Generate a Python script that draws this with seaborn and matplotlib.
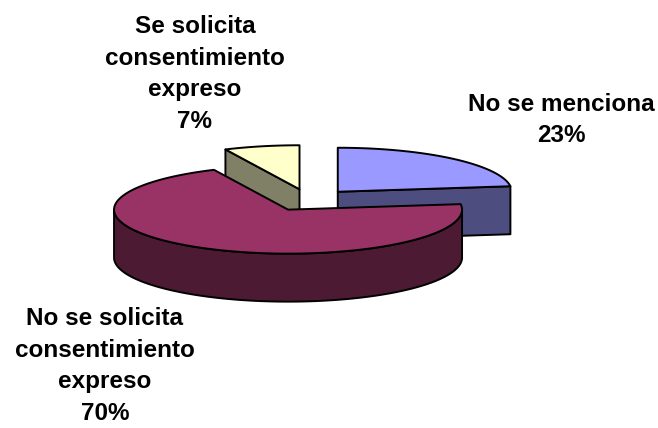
import numpy as np
import matplotlib
matplotlib.use("Agg")
import matplotlib.pyplot as plt
from matplotlib.patches import Polygon
import seaborn as sns

# Survey answers and their shares (percent)
categories = ["No se menciona",
              "No se solicita\nconsentimiento\nexpreso",
              "Se solicita\nconsentimiento\nexpreso"]
shares = [23, 70, 7]
top_colors = ["#9999FF", "#993366", "#FFFFCC"]
side_colors = ["#4D4D80", "#4D1A33", "#808066"]
label_pos = [(561, 120), (105, 366), (195, 74)]

sns.set_theme(style="white")
plt.rcParams["font.family"] = ["Liberation Sans", "DejaVu Sans"]

fig = plt.figure(figsize=(6.58, 4.28), dpi=100)
ax = fig.add_axes([0, 0, 1, 1])
ax.set_xlim(0, 658)
ax.set_ylim(428, 0)
ax.axis("off")

# Projected pie geometry (pixels): centre, radii of the tilted disc, thickness
cx, cy = 309.0, 200.0
rx, ry = 174.0, 44.0
depth = 48.0
explode = 0.25


def point(c, th, dz=0.0):
    return (c[0] + rx * np.sin(th), c[1] - ry * np.cos(th) + dz)


def arc(c, a0, a1, dz=0.0, n=120):
    ts = np.linspace(a0, a1, max(2, int(n * (a1 - a0) / np.pi) + 2))
    return [point(c, t, dz) for t in ts]


total = float(sum(shares))
bounds = np.concatenate([[0], np.cumsum(shares)]) / total * 2 * np.pi

slices = []
for i in range(len(shares)):
    a0, a1 = bounds[i], bounds[i + 1]
    m = 0.5 * (a0 + a1)
    c = (cx + explode * rx * np.sin(m), cy - explode * ry * np.cos(m))
    slices.append((c, a0, a1, i))

# Back slices first
slices.sort(key=lambda s: s[0][1])
edge = dict(edgecolor="black", linewidth=1.4, joinstyle="round")
z = 1
for c, a0, a1, i in slices:
    cd = (c[0], c[1] + depth)
    # radial faces
    if np.sin(a0) < -1e-6:
        p, q = point(c, a0), point(c, a0, depth)
        ax.add_patch(Polygon([c, p, q, cd], closed=True,
                             facecolor=side_colors[i], zorder=z, **edge))
        z += 1
    if np.sin(a1) > 1e-6:
        p, q = point(c, a1), point(c, a1, depth)
        ax.add_patch(Polygon([c, p, q, cd], closed=True,
                             facecolor=side_colors[i], zorder=z, **edge))
        z += 1
    # curved outer wall (front half only)
    lo, hi = max(a0, np.pi / 2), min(a1, 3 * np.pi / 2)
    if hi > lo:
        pts = arc(c, lo, hi) + arc(c, lo, hi, depth)[::-1]
        ax.add_patch(Polygon(pts, closed=True,
                             facecolor=side_colors[i], zorder=z, **edge))
        z += 1
    # top face
    pts = [c] + arc(c, a0, a1)
    ax.add_patch(Polygon(pts, closed=True,
                         facecolor=top_colors[i], zorder=z, **edge))
    z += 1

for i, name in enumerate(categories):
    x, y = label_pos[i]
    ax.text(x, y, f"{name}\n{shares[i]}%", ha="center", va="center",
            multialignment="center", fontsize=17.5, fontweight="bold",
            linespacing=1.48, color="black", zorder=20)

fig.savefig("out.png", dpi=100, facecolor="white")
